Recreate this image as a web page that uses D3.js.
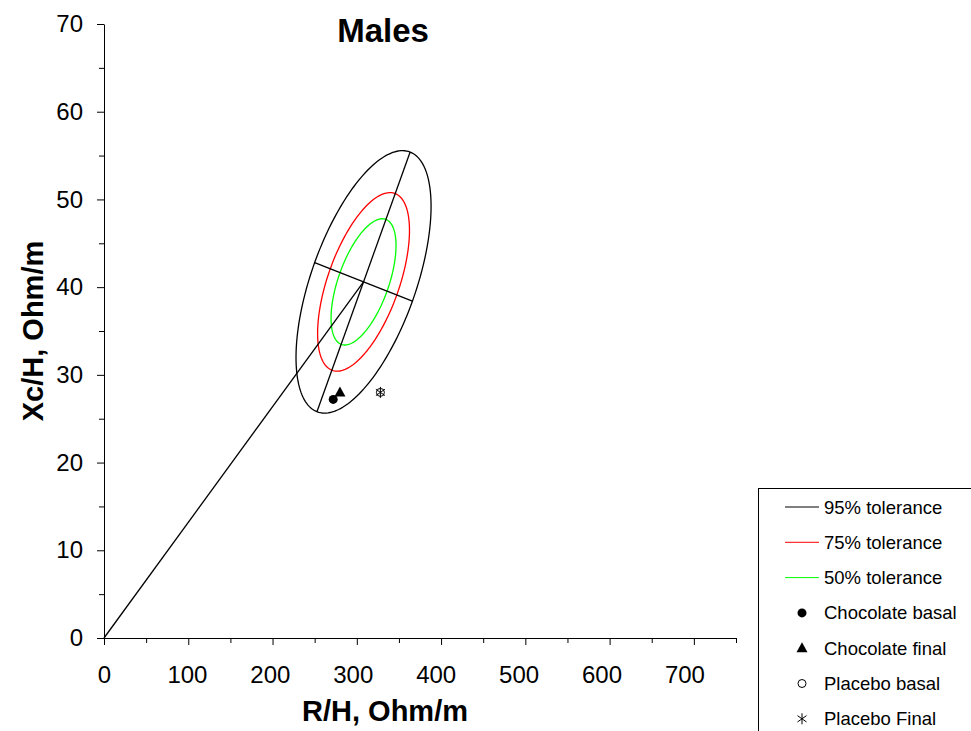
<!DOCTYPE html>
<html>
  <head>
    <meta charset="UTF-8" />
    <title>Males</title>
    <script src="https://d3js.org/d3.v7.min.js"></script>
    <style>
      * {
        margin: 0;
        padding: 0;
      }
      body {
        background: #ffffff;
        overflow: hidden;
      }
      svg {
        display: block;
      }
      text {
        font-family: "Liberation Sans", Arial, sans-serif;
        fill: #000;
      }
      .axis path,
      .axis line {
        stroke: #000;
        stroke-width: 1;
      }
      .axis text {
        font-size: 24px;
      }
    </style>
  </head>
  <body>
    <svg id="chart" width="971" height="731"></svg>
  </body>
  <script>
    // values
    const xTicks = [0, 100, 200, 300, 400, 500, 600, 700];
    const yTicks = [0, 10, 20, 30, 40, 50, 60, 70];

    // 95% tolerance ellipse: centre and two half-axes (data units)
    const ellipseCenter = [308, 40.6];
    const ellipseMajor = [55.3, 14.8];
    const ellipseMinor = [58.0, -2.2];

    const tolerances = [0.95, 0.75, 0.5];
    const toleranceLabels = ["95% tolerance", "75% tolerance", "50% tolerance"];
    const toleranceColors = ["#000000", "#ff0000", "#00ff00"];

    const groups = ["Chocolate basal", "Chocolate final", "Placebo basal", "Placebo Final"];
    const groupR = [272, 280, 328, 328];
    const groupXc = [27.2, 28.0, 28.0, 28.0];
    const groupSymbols = ["circle", "triangle", "open", "star"];

    const svg = d3.select("#chart");

    const x = d3.scaleLinear().domain([0, 750]).range([104, 736]);
    const y = d3.scaleLinear().domain([0, 70]).range([638, 24]);

    // minor ticks first, then main axes
    svg.append("g")
      .attr("class", "axis")
      .attr("transform", `translate(0,${y(0)})`)
      .call(d3.axisBottom(x).tickValues(d3.range(50, 751, 100)).tickSize(5).tickFormat(""))
      .call((g) => g.select(".domain").remove());

    svg.append("g")
      .attr("class", "axis")
      .attr("transform", `translate(${x(0)},0)`)
      .call(d3.axisLeft(y).tickValues(d3.range(5, 70, 10)).tickSize(5).tickFormat(""))
      .call((g) => g.select(".domain").remove());

    svg.append("g")
      .attr("class", "axis")
      .attr("transform", `translate(0,${y(0)})`)
      .call(d3.axisBottom(x).tickValues(xTicks).tickSize(7).tickSizeOuter(0).tickPadding(21))
      .call((g) => g.selectAll(".tick text").attr("dx", (d) => -d * 0.0135));

    svg.append("g")
      .attr("class", "axis")
      .attr("transform", `translate(${x(0)},0)`)
      .call(d3.axisLeft(y).tickValues(yTicks).tickSize(7).tickSizeOuter(0).tickPadding(14));

    // titles
    svg.append("text")
      .attr("x", 383)
      .attr("y", 42)
      .attr("text-anchor", "middle")
      .style("font-size", "33px")
      .style("font-weight", "bold")
      .text("Males");

    svg.append("text")
      .attr("x", 385)
      .attr("y", 721)
      .attr("text-anchor", "middle")
      .style("font-size", "29px")
      .style("font-weight", "bold")
      .text("R/H, Ohm/m");

    svg.append("text")
      .attr("transform", `translate(43,331) rotate(-90)`)
      .attr("text-anchor", "middle")
      .style("font-size", "29px")
      .style("font-weight", "bold")
      .text("Xc/H, Ohm/m");

    // ellipses
    const k95 = Math.sqrt(-2 * Math.log(1 - 0.95));
    const angles = d3.range(0, 2 * Math.PI, Math.PI / 90);
    const line = d3.line().x((d) => x(d[0])).y((d) => y(d[1]));

    tolerances.forEach((p, i) => {
      const s = Math.sqrt(-2 * Math.log(1 - p)) / k95;
      const pts = angles.map((t) => [
        ellipseCenter[0] + s * (Math.cos(t) * ellipseMajor[0] + Math.sin(t) * ellipseMinor[0]),
        ellipseCenter[1] + s * (Math.cos(t) * ellipseMajor[1] + Math.sin(t) * ellipseMinor[1]),
      ]);
      svg.append("path")
        .attr("d", line(pts) + "Z")
        .attr("fill", "none")
        .attr("stroke", toleranceColors[i])
        .attr("stroke-width", 1.3);
    });

    // axes of the 95% ellipse and the line from origin
    const segs = [
      [[ellipseCenter[0] - ellipseMajor[0], ellipseCenter[1] - ellipseMajor[1]], [ellipseCenter[0] + ellipseMajor[0], ellipseCenter[1] + ellipseMajor[1]]],
      [[ellipseCenter[0] - ellipseMinor[0], ellipseCenter[1] - ellipseMinor[1]], [ellipseCenter[0] + ellipseMinor[0], ellipseCenter[1] + ellipseMinor[1]]],
      [[0, 0], ellipseCenter],
    ];
    segs.forEach((s) => {
      svg.append("path")
        .attr("d", line(s))
        .attr("fill", "none")
        .attr("stroke", "#000")
        .attr("stroke-width", 1.3);
    });

    function drawSymbol(g, type, cx, cy) {
      if (type === "circle") {
        g.append("circle").attr("cx", cx).attr("cy", cy).attr("r", 4.5).attr("fill", "#000");
      } else if (type === "triangle") {
        g.append("path")
          .attr("d", `M${cx},${cy - 6}L${cx + 5.5},${cy + 4}L${cx - 5.5},${cy + 4}Z`)
          .attr("fill", "#000");
      } else if (type === "open") {
        g.append("circle").attr("cx", cx).attr("cy", cy).attr("r", 4)
          .attr("fill", "none").attr("stroke", "#000").attr("stroke-width", 1);
      } else {
        const r = 5.5;
        [90, 35, 145].forEach((a) => {
          const dx = r * Math.cos((a * Math.PI) / 180);
          const dy = r * Math.sin((a * Math.PI) / 180);
          g.append("line")
            .attr("x1", cx - dx).attr("y1", cy - dy)
            .attr("x2", cx + dx).attr("y2", cy + dy)
            .attr("stroke", "#000").attr("stroke-width", 1);
        });
      }
    }

    const marks = svg.append("g");
    groups.forEach((gName, i) => {
      drawSymbol(marks, groupSymbols[i], x(groupR[i]), y(groupXc[i]));
    });

    // legend
    const legend = svg.append("g");
    legend.append("rect")
      .attr("x", 758.5)
      .attr("y", 488.5)
      .attr("width", 230)
      .attr("height", 260)
      .attr("fill", "#fff")
      .attr("stroke", "#000");

    const rowY = (i) => 507 + i * 35.3;
    toleranceLabels.forEach((label, i) => {
      legend.append("line")
        .attr("x1", 785).attr("x2", 819)
        .attr("y1", rowY(i)).attr("y2", rowY(i))
        .attr("stroke", toleranceColors[i]);
      legend.append("text")
        .attr("x", 824).attr("y", rowY(i) + 6.5)
        .style("font-size", "18.5px")
        .text(label);
    });
    groups.forEach((label, i) => {
      const j = i + toleranceLabels.length;
      drawSymbol(legend, groupSymbols[i], 802, rowY(j));
      legend.append("text")
        .attr("x", 824).attr("y", rowY(j) + 6.5)
        .style("font-size", "18.5px")
        .text(label);
    });
  </script>
</html>
